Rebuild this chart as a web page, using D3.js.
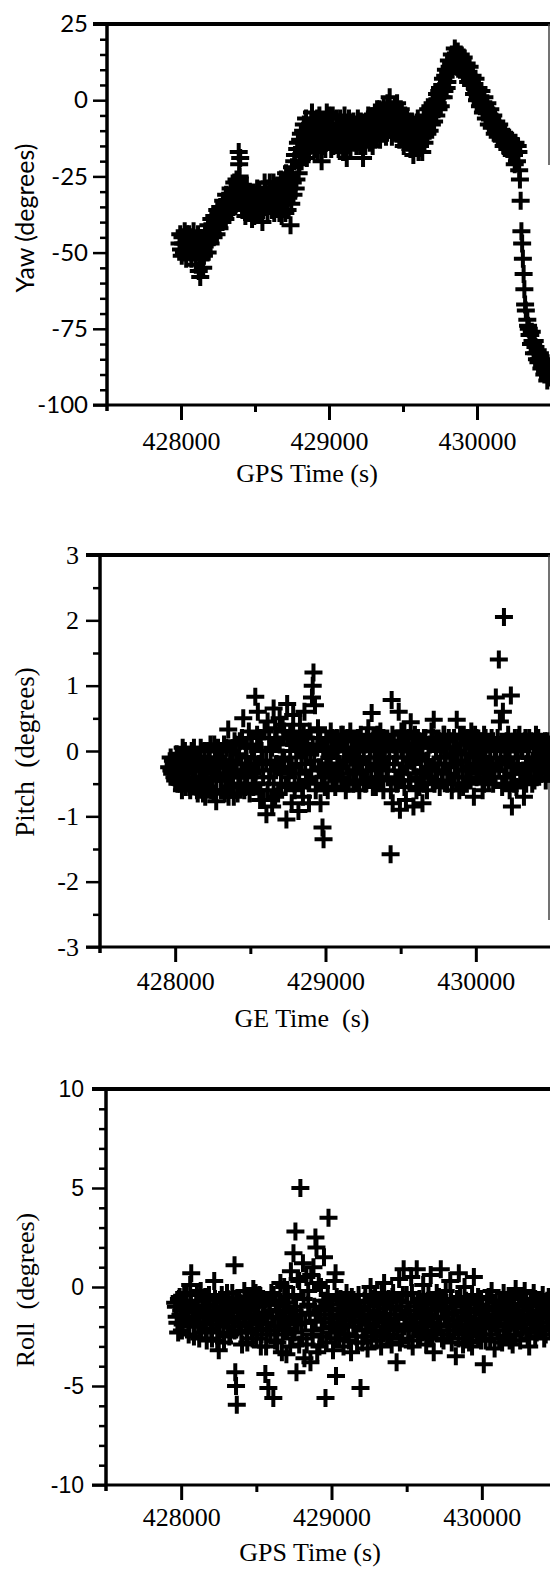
<!DOCTYPE html>
<html>
<head>
<meta charset="utf-8">
<script src="https://cdn.jsdelivr.net/npm/d3@7"></script>
<style>
body { margin: 0; background: #fff; }
</style>
</head>
<body>
<div id="chart"></div>
<script>
const width = 550, height = 1569;

// tick values
const timeTicks = [428000, 429000, 430000];
const timeMinorTicks = [428500, 429500];
const yawTicks = [25, 0, -25, -50, -75, -100];
const pitchTicks = [3, 2, 1, 0, -1, -2, -3];
const rollTicks = [10, 5, 0, -5, -10];

// [GPS time (s), degrees]
const yawData = [[427990,-47],[428000,-49],[428010,-45],[428020,-50],[428030,-47],[428040,-44],[428050,-49],[428060,-46],[428070,-52],[428080,-45],[428090,-50],[428100,-54],[428110,-47],[428120,-56],[428130,-58],[428140,-52],[428150,-55],[428160,-48],[428170,-45],[428180,-50],[428190,-43],[428200,-47],[428210,-42],[428220,-45],[428230,-40],[428240,-44],[428250,-39],[428260,-42],[428270,-37],[428280,-40],[428290,-35],[428300,-39],[428310,-34],[428320,-37],[428330,-32],[428340,-36],[428350,-30],[428360,-27],[428370,-34],[428380,-29],[428390,-17],[428393,-21],[428396,-25],[428400,-19],[428405,-28],[428410,-31],[428420,-33],[428430,-29],[428440,-35],[428450,-31],[428460,-37],[428470,-33],[428480,-39],[428490,-35],[428500,-31],[428510,-37],[428520,-33],[428530,-30],[428540,-36],[428550,-40],[428560,-33],[428570,-29],[428580,-35],[428590,-31],[428600,-27],[428610,-34],[428620,-30],[428630,-37],[428640,-32],[428650,-28],[428660,-34],[428670,-30],[428680,-38],[428690,-27],[428700,-33],[428710,-24],[428720,-36],[428730,-29],[428740,-41],[428750,-22],[428760,-31],[428770,-18],[428780,-26],[428790,-14],[428800,-21],[428810,-11],[428820,-17],[428830,-8],[428840,-13],[428850,-19],[428860,-9],[428870,-15],[428880,-7],[428890,-12],[428900,-16],[428910,-10],[428920,-6],[428930,-13],[428940,-9],[428950,-20],[428960,-11],[428970,-7],[428980,-14],[428990,-10],[429000,-5],[429010,-12],[429020,-8],[429030,-15],[429040,-10],[429050,-6],[429060,-13],[429070,-9],[429080,-11],[429090,-14],[429100,-8],[429110,-12],[429120,-19],[429130,-10],[429140,-13],[429150,-9],[429160,-11],[429170,-14],[429180,-8],[429190,-12],[429200,-10],[429210,-15],[429220,-9],[429230,-19],[429240,-11],[429250,-7],[429260,-13],[429270,-10],[429280,-6],[429290,-12],[429300,-9],[429310,-4],[429320,-11],[429330,-7],[429340,-3],[429350,-9],[429360,-6],[429370,-2],[429380,-8],[429390,-5],[429400,-3],[429410,1],[429420,-7],[429430,-3],[429440,-9],[429450,-5],[429460,-1],[429470,-8],[429480,-4],[429490,-10],[429500,-6],[429510,-12],[429520,-8],[429530,-14],[429540,-10],[429550,-16],[429560,-7],[429570,-18],[429580,-11],[429590,-15],[429600,-6],[429610,-13],[429620,-9],[429630,-17],[429640,-5],[429650,-12],[429660,-8],[429670,-3],[429680,-10],[429690,-5],[429700,-1],[429710,-7],[429720,-2],[429730,2],[429740,-3],[429750,4],[429760,1],[429770,7],[429780,3],[429790,10],[429800,6],[429810,13],[429820,9],[429830,15],[429840,12],[429850,17],[429860,14],[429870,16],[429880,12],[429890,15],[429900,11],[429910,14],[429920,8],[429930,12],[429940,6],[429950,11],[429960,5],[429970,8],[429980,2],[429990,7],[430000,0],[430010,4],[430020,-2],[430030,3],[430040,-4],[430050,1],[430060,-6],[430070,-1],[430080,-8],[430090,-3],[430100,-9],[430110,-5],[430120,-11],[430130,-7],[430140,-12],[430150,-8],[430160,-13],[430170,-10],[430180,-15],[430190,-11],[430200,-14],[430210,-12],[430220,-16],[430230,-13],[430240,-15],[430250,-18],[430260,-14],[430270,-20],[430280,-17],[430285,-23],[430290,-26],[430295,-33],[430300,-43],[430305,-47],[430310,-52],[430315,-57],[430320,-62],[430325,-67],[430330,-69],[430340,-72],[430350,-75],[430360,-77],[430370,-76],[430380,-80],[430390,-79],[430400,-83],[430410,-82],[430420,-85],[430430,-84],[430440,-87],[430450,-86],[430460,-89],[430470,-88],[430480,-91],[430490,-90]];

// second pass over the dense part of the yaw band
const yawBand = [[427995,-44],[428005,-51],[428015,-47],[428025,-43],[428035,-52],[428045,-47],[428055,-44],[428065,-50],[428075,-48],[428085,-43],[428095,-47],[428105,-50],[428115,-44],[428125,-52],[428135,-49],[428145,-46],[428155,-51],[428165,-43],[428175,-47],[428185,-41],[428195,-46],[428205,-39],[428215,-44],[428225,-38],[428235,-42],[428245,-36],[428255,-41],[428265,-35],[428275,-39],[428285,-33],[428295,-37],[428305,-31],[428315,-36],[428325,-34],[428335,-29],[428345,-33],[428355,-35],[428365,-31],[428375,-26],[428385,-32],[428415,-36],[428425,-30],[428435,-38],[428445,-28],[428455,-34],[428465,-30],[428475,-36],[428485,-32],[428495,-38],[428505,-34],[428515,-29],[428525,-36],[428535,-33],[428545,-31],[428555,-36],[428565,-27],[428575,-32],[428585,-37],[428595,-29],[428605,-31],[428615,-36],[428625,-27],[428635,-33],[428645,-35],[428655,-31],[428665,-37],[428675,-26],[428685,-33],[428695,-30],[428705,-37],[428715,-28],[428725,-32],[428735,-25],[428745,-34],[428755,-27],[428765,-20],[428775,-29],[428785,-16],[428795,-24],[428805,-13],[428815,-20],[428825,-10],[428835,-16],[428845,-6],[428855,-12],[428865,-17],[428875,-10],[428885,-4],[428895,-14],[428905,-8],[428915,-13],[428925,-17],[428935,-5],[428945,-12],[428955,-15],[428965,-8],[428975,-16],[428985,-4],[428995,-13],[429005,-9],[429015,-16],[429025,-5],[429035,-11],[429045,-14],[429055,-8],[429065,-16],[429075,-6],[429085,-12],[429095,-17],[429105,-5],[429115,-15],[429125,-9],[429135,-6],[429145,-16],[429155,-12],[429165,-7],[429175,-10],[429185,-15],[429195,-6],[429205,-13],[429215,-7],[429225,-14],[429235,-8],[429245,-15],[429255,-11],[429265,-5],[429275,-14],[429285,-9],[429295,-15],[429305,-7],[429315,-13],[429325,-3],[429335,-10],[429345,-13],[429355,-4],[429365,-11],[429375,-7],[429385,-12],[429395,-1],[429405,-9],[429415,-5],[429425,-12],[429435,-6],[429445,-2],[429455,-11],[429465,-7],[429475,-13],[429485,-3],[429495,-9],[429505,-15],[429515,-5],[429525,-11],[429535,-7],[429545,-13],[429555,-11],[429565,-15],[429575,-8],[429585,-13],[429595,-10],[429605,-17],[429615,-15],[429625,-12],[429635,-10],[429645,-14],[429655,-7],[429665,-11],[429675,-6],[429685,-2],[429695,-8],[429705,-4],[429715,0],[429725,-5],[429735,-1],[429745,3],[429755,-2],[429765,5],[429775,1],[429785,8],[429795,4],[429805,9],[429815,11],[429825,12],[429835,10],[429845,14],[429855,13],[429865,11],[429875,14],[429885,10],[429895,13],[429905,9],[429915,11],[429925,10],[429935,9],[429945,8],[429955,7],[429965,6],[429975,5],[429985,4],[429995,3],[430005,1],[430015,1],[430025,-1],[430035,-1],[430045,-3],[430055,-2],[430065,-4],[430075,-4],[430085,-5],[430095,-6],[430105,-7],[430115,-8],[430125,-9],[430135,-10],[430145,-11],[430155,-11],[430165,-12],[430175,-12],[430185,-13],[430195,-14],[430205,-16],[430215,-15],[430225,-17],[430235,-18],[430245,-16],[430255,-21],[430265,-17],[430275,-15],[430345,-74],[430355,-77],[430365,-80],[430375,-79],[430385,-83],[430395,-81],[430405,-85],[430415,-86],[430425,-83],[430435,-88],[430445,-85],[430455,-90],[430465,-87],[430475,-92]];

const pitchData = [[427960,-0.25],[427970,-0.1],[427980,-0.35],[427990,-0.2],[428000,-0.45],[428010,-0.05],[428020,-0.3],[428030,-0.5],[428040,-0.15],[428050,0.05],[428060,-0.35],[428070,-0.55],[428080,-0.1],[428090,-0.3],[428100,-0.6],[428110,0.0],[428120,-0.25],[428130,-0.45],[428140,-0.1],[428150,-0.65],[428160,-0.3],[428170,0.05],[428180,-0.2],[428190,-0.5],[428200,-0.7],[428210,-0.35],[428220,0.0],[428230,-0.15],[428240,-0.6],[428250,-0.4],[428260,0.1],[428273,-0.77],[428280,-0.25],[428290,-0.1],[428300,0.0],[428310,-0.45],[428320,-0.2],[428330,-0.65],[428340,0.05],[428353,0.33],[428360,-0.35],[428370,-0.55],[428380,-0.15],[428390,-0.7],[428400,0.1],[428410,-0.3],[428420,-0.5],[428430,0.15],[428440,-0.2],[428453,0.5],[428460,-0.6],[428470,-0.1],[428480,-0.4],[428490,0.3],[428500,-0.25],[428510,0.05],[428520,-0.55],[428533,0.83],[428540,-0.3],[428550,0.6],[428560,-0.6],[428570,0.2],[428580,-0.15],[428590,-0.75],[428607,-0.97],[428615,0.45],[428625,-0.4],[428635,0.0],[428645,-0.85],[428655,0.65],[428665,-0.7],[428675,0.15],[428685,-0.25],[428695,0.5],[428705,-0.5],[428715,-0.1],[428725,0.3],[428740,-1.05],[428745,0.72],[428755,-0.3],[428765,0.25],[428775,-0.8],[428785,0.55],[428795,-0.6],[428805,0.1],[428820,-0.92],[428830,0.4],[428840,-0.2],[428850,-0.7],[428860,0.6],[428870,-0.45],[428880,0.2],[428890,-0.8],[428900,0.0],[428910,0.82],[428915,1.0],[428920,1.2],[428930,0.7],[428940,-0.5],[428950,0.35],[428967,-0.8],[428980,-1.17],[428987,-1.35],[428995,-0.3],[429005,0.15],[429015,-0.6],[429025,-0.1],[429035,0.3],[429045,-0.4],[429055,0.0],[429065,-0.55],[429075,0.2],[429085,-0.25],[429095,0.1],[429105,-0.45],[429115,0.25],[429125,-0.15],[429135,-0.6],[429145,0.05],[429155,-0.35],[429165,0.3],[429175,-0.05],[429185,-0.5],[429195,0.15],[429205,-0.3],[429215,0.0],[429225,-0.6],[429235,0.25],[429245,-0.2],[429255,-0.45],[429265,0.1],[429275,-0.3],[429285,0.35],[429295,-0.1],[429307,0.58],[429315,-0.55],[429325,0.2],[429335,-0.25],[429345,0.05],[429355,-0.4],[429365,0.3],[429375,-0.15],[429385,-0.6],[429395,0.15],[429405,-0.3],[429420,-0.2],[429433,-1.58],[429440,0.78],[429447,-0.8],[429455,0.1],[429465,-0.45],[429475,-0.1],[429487,0.6],[429495,-0.9],[429505,0.05],[429515,-0.35],[429525,0.3],[429535,-0.75],[429545,0.0],[429555,-0.45],[429567,0.44],[429575,-0.15],[429585,-0.85],[429595,0.1],[429605,-0.4],[429615,0.2],[429625,-0.55],[429635,-0.1],[429645,-0.8],[429655,0.2],[429665,-0.3],[429675,-0.6],[429685,0.05],[429695,-0.25],[429705,0.3],[429720,0.48],[429730,-0.45],[429740,0.15],[429750,-0.2],[429760,-0.55],[429770,0.1],[429780,-0.3],[429790,0.25],[429800,-0.1],[429810,-0.5],[429820,0.2],[429830,-0.25],[429840,-0.6],[429850,0.05],[429860,-0.4],[429873,0.48],[429880,-0.15],[429890,-0.6],[429900,0.1],[429910,-0.3],[429920,0.25],[429930,-0.05],[429940,-0.5],[429950,0.15],[429960,-0.25],[429970,0.3],[429987,-0.7],[429995,-0.1],[430005,0.2],[430015,-0.35],[430025,0.05],[430035,-0.2],[430045,-0.6],[430055,0.25],[430065,-0.15],[430075,-0.4],[430085,0.1],[430095,-0.25],[430105,0.2],[430115,-0.5],[430125,0.0],[430133,0.82],[430153,1.4],[430160,0.45],[430170,-0.2],[430180,0.6],[430187,2.05],[430195,-0.4],[430205,0.15],[430215,-0.1],[430225,-0.6],[430233,0.85],[430240,-0.85],[430250,-0.25],[430260,0.2],[430270,-0.55],[430280,-0.1],[430290,0.25],[430300,-0.35],[430310,0.0],[430320,-0.7],[430330,0.2],[430340,-0.2],[430350,0.05],[430360,-0.4],[430370,0.15],[430380,-0.15],[430390,-0.45],[430400,0.25],[430410,-0.1],[430420,0.1],[430430,-0.3],[430440,0.0],[430450,-0.2],[430460,0.15],[430470,-0.1],[430480,-0.35],[430490,0.1]];

const pitchBand = [[427975,-0.3],[427985,-0.15],[427995,-0.4],[428005,-0.25],[428015,-0.5],[428025,-0.1],[428035,-0.35],[428045,-0.6],[428055,-0.2],[428065,0.0],[428075,-0.45],[428085,-0.25],[428095,-0.55],[428105,-0.15],[428115,-0.4],[428125,0.05],[428135,-0.3],[428145,-0.6],[428155,-0.15],[428165,-0.45],[428175,-0.25],[428185,-0.65],[428195,0.0],[428205,-0.4],[428215,-0.2],[428225,-0.55],[428235,0.1],[428245,-0.3],[428255,-0.65],[428265,-0.1],[428275,-0.45],[428285,0.05],[428295,-0.35],[428305,-0.6],[428315,-0.15],[428325,0.1],[428335,-0.4],[428345,-0.25],[428355,-0.7],[428365,0.0],[428375,-0.35],[428385,-0.5],[428395,0.15],[428405,-0.2],[428415,-0.65],[428425,-0.05],[428435,-0.4],[428445,0.2],[428455,-0.3],[428465,-0.55],[428475,0.05],[428485,-0.2],[428495,-0.65],[428505,0.1],[428515,-0.35],[428525,-0.1],[428535,-0.5],[428545,0.25],[428555,-0.2],[428565,-0.75],[428575,0.0],[428585,-0.4],[428595,0.3],[428605,-0.15],[428615,-0.6],[428625,0.2],[428635,-0.3],[428645,0.05],[428655,-0.5],[428665,0.35],[428675,-0.2],[428685,-0.65],[428695,0.1],[428705,-0.35],[428715,0.4],[428725,-0.15],[428735,-0.55],[428745,0.2],[428755,-0.4],[428765,0.0],[428775,-0.25],[428785,0.3],[428795,-0.5],[428805,-0.1],[428815,0.15],[428825,-0.35],[428835,0.05],[428845,-0.55],[428855,0.25],[428865,-0.2],[428875,-0.05],[428885,-0.45],[428895,0.3],[428905,-0.3],[428915,0.1],[428925,-0.15],[428935,-0.6],[428945,0.05],[428955,-0.25],[428965,0.2],[428975,-0.4],[428985,0.0],[428995,-0.55],[429005,-0.2],[429015,0.15],[429025,-0.35],[429035,-0.05],[429045,0.2],[429055,-0.3],[429065,0.05],[429075,-0.45],[429085,0.1],[429095,-0.2],[429105,0.25],[429115,-0.4],[429125,0.0],[429135,-0.15],[429145,0.2],[429155,-0.5],[429165,-0.1],[429175,0.15],[429185,-0.3],[429195,0.05],[429205,-0.45],[429215,0.2],[429225,-0.15],[429235,-0.35],[429245,0.1],[429255,0.0],[429265,-0.5],[429275,0.2],[429285,-0.2],[429295,0.05],[429305,-0.4],[429315,0.15],[429325,-0.1],[429335,-0.55],[429345,0.25],[429355,-0.25],[429365,0.0],[429375,-0.45],[429385,0.2],[429395,-0.1],[429405,0.1],[429415,-0.4],[429425,0.0],[429435,-0.6],[429445,0.25],[429455,-0.2],[429465,0.05],[429475,-0.5],[429485,0.15],[429495,-0.3],[429505,0.3],[429515,-0.1],[429525,-0.55],[429535,0.1],[429545,-0.25],[429555,0.2],[429565,-0.45],[429575,0.0],[429585,-0.2],[429595,0.25],[429605,-0.6],[429615,-0.05],[429625,0.15],[429635,-0.35],[429645,0.05],[429655,-0.5],[429665,0.2],[429675,-0.15],[429685,-0.4],[429695,0.1],[429705,-0.25],[429715,0.2],[429725,-0.5],[429735,0.0],[429745,-0.3],[429755,0.15],[429765,-0.1],[429775,-0.45],[429785,0.25],[429795,-0.2],[429805,0.05],[429815,-0.35],[429825,0.15],[429835,-0.05],[429845,-0.5],[429855,0.2],[429865,-0.2],[429875,0.0],[429885,-0.4],[429895,0.25],[429905,-0.15],[429915,-0.55],[429925,0.1],[429935,-0.3],[429945,0.2],[429955,-0.05],[429965,-0.45],[429975,0.1],[429985,-0.2],[429995,0.25],[430005,-0.4],[430015,0.0],[430025,-0.25],[430035,0.15],[430045,-0.1],[430055,-0.5],[430065,0.2],[430075,-0.2],[430085,-0.45],[430095,0.05],[430105,-0.3],[430115,0.15],[430125,-0.4],[430135,-0.1],[430145,0.2],[430155,-0.3],[430165,0.05],[430175,-0.55],[430185,0.1],[430195,-0.15],[430205,-0.4],[430215,0.25],[430225,0.0],[430235,-0.35],[430245,0.1],[430255,-0.5],[430265,0.0],[430275,-0.2],[430285,0.2],[430295,-0.45],[430305,0.05],[430315,-0.3],[430325,0.15],[430335,-0.5],[430345,-0.1],[430355,0.2],[430365,-0.25],[430375,-0.5],[430385,0.1],[430395,-0.15],[430405,-0.4],[430415,0.2],[430425,-0.05],[430435,-0.35],[430445,0.1],[430455,-0.2],[430465,-0.45],[430475,0.15],[430485,-0.1],[430495,-0.3]];

const rollData = [[427960,-0.8],[427970,-1.5],[427980,-2.3],[427990,-0.5],[428000,-1.2],[428010,-1.9],[428020,-0.3],[428030,-1.0],[428040,-1.6],[428050,-2.4],[428060,0.1],[428067,0.7],[428080,-1.3],[428090,-2.0],[428100,-0.7],[428110,-1.5],[428120,-2.6],[428130,-0.2],[428140,-1.1],[428150,-1.8],[428160,-0.5],[428170,-2.7],[428180,-1.4],[428190,-0.9],[428200,-2.2],[428210,-1.6],[428220,0.3],[428230,-1.0],[428240,-2.7],[428250,-3.2],[428260,-1.3],[428270,-0.4],[428280,-2.0],[428290,-1.1],[428300,-1.7],[428310,-0.6],[428320,-2.5],[428330,-1.2],[428340,-0.3],[428350,-2.0],[428355,1.1],[428360,-4.3],[428365,-5.0],[428370,-5.95],[428380,-1.6],[428390,-0.8],[428400,-2.3],[428410,-1.1],[428420,-0.2],[428430,-1.8],[428440,-2.8],[428450,-0.6],[428460,-1.4],[428470,-2.2],[428480,-0.1],[428490,-1.0],[428500,-2.6],[428510,-1.5],[428520,-0.4],[428530,-3.0],[428540,-1.9],[428550,-0.8],[428560,-4.4],[428570,-2.4],[428580,-5.1],[428590,-1.2],[428600,-0.3],[428613,-5.6],[428620,-2.0],[428630,-0.9],[428640,-2.8],[428650,-1.5],[428660,0.2],[428670,-3.3],[428680,-1.0],[428690,-2.2],[428700,-3.4],[428710,-0.5],[428720,-1.7],[428730,0.8],[428740,-2.6],[428747,1.7],[428755,-1.2],[428760,2.8],[428767,-4.3],[428775,0.4],[428785,-2.9],[428793,5.0],[428800,-1.8],[428810,1.2],[428820,-3.6],[428833,0.5],[428845,-0.9],[428860,-3.8],[428870,-2.2],[428880,1.0],[428893,2.5],[428900,2.0],[428910,-1.4],[428920,-3.0],[428930,0.0],[428940,-2.5],[428950,1.5],[428960,-5.6],[428970,-0.7],[428980,3.5],[428990,-2.0],[429000,-1.1],[429010,-3.2],[429020,0.3],[429027,0.7],[429030,-4.5],[429040,-1.6],[429050,-2.6],[429060,-0.6],[429070,-1.9],[429080,-3.0],[429090,-1.2],[429100,-0.3],[429110,-2.4],[429120,-1.5],[429130,-3.3],[429140,-0.8],[429150,-2.0],[429160,-1.0],[429170,-2.8],[429180,-0.4],[429193,-5.1],[429200,-1.7],[429210,-2.5],[429220,-0.7],[429230,-1.9],[429240,-3.1],[429250,-1.2],[429260,0.0],[429270,-2.2],[429280,-1.4],[429290,-0.5],[429300,-2.7],[429310,-1.6],[429320,-0.9],[429330,-3.0],[429340,-1.8],[429350,0.2],[429360,-1.1],[429370,-2.4],[429380,-0.6],[429390,-1.7],[429400,-2.9],[429410,-0.3],[429420,-1.4],[429433,-3.8],[429440,-2.1],[429450,0.4],[429460,-1.0],[429470,-2.6],[429480,0.9],[429490,-1.6],[429500,-0.4],[429510,-2.2],[429520,-1.2],[429530,0.5],[429540,-3.0],[429550,-1.8],[429567,0.9],[429575,-0.8],[429590,-2.4],[429600,-1.3],[429610,0.1],[429620,-2.0],[429630,-2.9],[429640,-0.7],[429650,-1.6],[429660,0.6],[429670,-2.4],[429680,-3.3],[429690,-1.1],[429700,-0.3],[429710,-1.9],[429727,0.9],[429735,-2.6],[429745,-1.0],[429760,-0.2],[429770,-2.2],[429780,-1.4],[429790,0.3],[429800,-2.8],[429810,-1.7],[429827,-3.5],[429835,-0.6],[429847,0.7],[429855,-2.0],[429865,-1.2],[429875,-2.9],[429885,0.0],[429895,-1.6],[429905,-2.4],[429915,-0.8],[429925,-1.9],[429935,-3.0],[429947,0.5],[429955,-1.3],[429965,-2.2],[429975,-0.5],[429985,-1.7],[429995,-2.7],[430005,-1.0],[430013,-3.9],[430025,-2.0],[430035,-0.6],[430045,-1.5],[430055,-2.6],[430065,-0.2],[430075,-1.8],[430085,-3.1],[430095,-1.1],[430105,-2.2],[430115,-0.7],[430125,-1.6],[430135,-2.8],[430145,-0.3],[430155,-1.9],[430165,-1.2],[430175,-2.5],[430185,-0.5],[430195,-1.5],[430205,-2.9],[430215,-1.0],[430225,-0.1],[430235,-2.1],[430245,-1.4],[430255,-2.7],[430265,-0.6],[430275,-1.7],[430285,-0.2],[430295,-2.3],[430305,-1.2],[430315,-3.0],[430325,-0.8],[430335,-1.9],[430345,-0.3],[430355,-2.5],[430365,-1.4],[430375,-0.7],[430385,-2.1],[430395,-1.6],[430405,-0.4],[430415,-2.6],[430425,-1.1],[430435,-1.8],[430445,-0.5],[430455,-2.2],[430465,-1.3]];

const rollBand = [[427965,-1.0],[427975,-1.8],[427985,-0.6],[427995,-1.4],[428005,-2.2],[428015,-0.9],[428025,-1.6],[428035,-0.4],[428045,-1.2],[428055,-2.0],[428065,-0.8],[428075,-1.5],[428085,-2.5],[428095,-1.1],[428105,-0.3],[428115,-1.9],[428125,-1.3],[428135,-2.3],[428145,-0.7],[428155,-1.5],[428165,-2.1],[428175,-1.0],[428185,-0.4],[428195,-1.7],[428205,-2.6],[428215,-1.2],[428225,-0.6],[428235,-1.9],[428245,-1.4],[428255,-2.3],[428265,-0.8],[428275,-1.6],[428285,-2.8],[428295,-1.0],[428305,-0.3],[428315,-1.8],[428325,-2.4],[428335,-0.9],[428345,-1.5],[428355,-2.2],[428365,-0.6],[428375,-1.3],[428385,-2.0],[428395,-1.0],[428405,-2.9],[428415,-1.6],[428425,-0.5],[428435,-2.3],[428445,-1.2],[428455,-1.9],[428465,-0.8],[428475,-2.6],[428485,-1.4],[428495,-0.3],[428505,-2.1],[428515,-1.0],[428525,-1.7],[428535,-2.4],[428545,-0.6],[428555,-1.3],[428565,-3.0],[428575,-1.8],[428585,-0.9],[428595,-2.2],[428605,-1.5],[428615,-0.4],[428625,-2.7],[428635,-1.2],[428645,-2.0],[428655,-0.7],[428665,-1.6],[428675,-2.4],[428685,0.0],[428695,-1.3],[428705,-2.1],[428715,-0.8],[428725,-3.0],[428735,-1.5],[428745,-0.4],[428755,-2.3],[428765,-1.0],[428775,-1.9],[428785,0.3],[428795,-1.4],[428805,-2.6],[428815,-0.6],[428825,-1.8],[428835,-2.9],[428845,-0.2],[428855,-1.3],[428865,0.6],[428875,-2.4],[428885,-1.0],[428895,-1.7],[428905,-3.3],[428915,0.2],[428925,-1.2],[428935,-2.1],[428945,-0.7],[428955,-1.6],[428965,-2.8],[428975,-0.4],[428985,-1.4],[428995,-2.3],[429005,-0.9],[429015,-1.8],[429025,-2.6],[429035,-0.5],[429045,-1.2],[429055,-2.1],[429065,-1.5],[429075,-0.7],[429085,-2.4],[429095,-1.7],[429105,-0.9],[429115,-2.7],[429125,-1.3],[429135,-0.5],[429145,-2.0],[429155,-1.4],[429165,-2.5],[429175,-0.8],[429185,-1.8],[429195,-1.1],[429205,-2.8],[429215,-1.5],[429225,-0.4],[429235,-2.2],[429245,-1.0],[429255,-1.9],[429265,-2.7],[429275,-0.6],[429285,-1.6],[429295,-2.3],[429305,-0.9],[429315,-1.3],[429325,-2.5],[429335,-0.3],[429345,-1.5],[429355,-2.0],[429365,-0.8],[429375,-1.7],[429385,-2.6],[429395,-1.0],[429405,-0.5],[429415,-2.2],[429425,-1.6],[429435,-0.7],[429445,-1.9],[429455,-2.8],[429465,-1.2],[429475,-0.4],[429485,-2.0],[429495,-1.4],[429505,-0.8],[429515,-2.7],[429525,-1.6],[429535,-0.3],[429545,-2.1],[429555,-1.0],[429565,-1.8],[429575,-2.5],[429585,-0.6],[429595,-1.5],[429605,-2.3],[429615,-0.9],[429625,-1.4],[429635,-2.0],[429645,-0.4],[429655,-2.6],[429665,-1.2],[429675,-1.8],[429685,-0.7],[429695,-2.2],[429705,-1.5],[429715,-0.5],[429725,-2.0],[429735,-1.1],[429745,-2.7],[429755,-1.6],[429765,-0.8],[429775,-1.9],[429785,-2.4],[429795,-0.6],[429805,-1.3],[429815,-2.2],[429825,-1.0],[429835,-1.7],[429845,-2.6],[429855,-0.5],[429865,-1.9],[429875,-1.3],[429885,-2.3],[429895,-0.7],[429905,-1.5],[429915,-2.8],[429925,-1.1],[429935,-0.4],[429945,-2.0],[429955,-1.6],[429965,-0.9],[429975,-2.5],[429985,-1.2],[429995,-0.6],[430005,-2.1],[430015,-1.4],[430025,-2.7],[430035,-1.0],[430045,-0.5],[430055,-1.8],[430065,-2.4],[430075,-1.2],[430085,-0.8],[430095,-2.0],[430105,-1.5],[430115,-2.6],[430125,-0.9],[430135,-1.3],[430145,-2.2],[430155,-0.7],[430165,-2.0],[430175,-1.4],[430185,-2.7],[430195,-1.0],[430205,-0.6],[430215,-1.8],[430225,-2.4],[430235,-1.2],[430245,-0.5],[430255,-1.6],[430265,-2.3],[430275,-1.0],[430285,-1.9],[430295,-0.7],[430305,-2.6],[430315,-1.5],[430325,-2.1],[430335,-1.0],[430345,-1.7],[430355,-0.6],[430365,-2.3],[430375,-1.3],[430385,-0.9],[430395,-2.0],[430405,-1.5],[430415,-1.0],[430425,-2.4],[430435,-0.7],[430445,-1.4],[430455,-2.0],[430465,-0.9],[430475,-1.7]];

const serif = "'Liberation Serif', 'Times New Roman', serif";
const sans = "Lato, 'Liberation Sans', sans-serif";
const helv = "'Liberation Sans', Arial, sans-serif";

// one entry per stacked plot
const panels = [
	{ data: yawData.concat(yawBand), domain: [-100, 25], ticks: yawTicks, minorStep: 5,
	  left: 107, right: 551, top: 24, bottom: 405,
	  yFont: sans, yFontSize: 24, yPad: 5,
	  label: "Yaw (degrees)", labelFont: sans, labelSize: 25, labelY: 218,
	  xLabel: "GPS Time (s)", xLabelX: 307, xLabelY: 482, xPad: 12,
	  border: [24, 165] },
	{ data: pitchData.concat(pitchBand), domain: [-3, 3], ticks: pitchTicks, minorStep: 0.5,
	  left: 100, right: 551, top: 555, bottom: 947,
	  yFont: serif, yFontSize: 26, yPad: 7,
	  label: "Pitch  (degrees)", labelFont: serif, labelSize: 27, labelY: 752,
	  xLabel: "GE Time  (s)", xLabelX: 302, xLabelY: 1027, xPad: 10,
	  border: [555, 920] },
	{ data: rollData.concat(rollBand), domain: [-10, 10], ticks: rollTicks, minorStep: 1,
	  left: 106, right: 557, top: 1089, bottom: 1485,
	  yFont: helv, yFontSize: 23, yPad: 8,
	  label: "Roll  (degrees)", labelFont: serif, labelSize: 26, labelY: 1290,
	  xLabel: "GPS Time (s)", xLabelX: 310, xLabelY: 1561, xPad: 8,
	  border: null }
];

const svg = d3.select("#chart")
	.append("svg")
	.attr("width", width)
	.attr("height", height)
	.style("display", "block");

svg.append("rect").attr("width", width).attr("height", height).attr("fill", "#fff");

const crossPath = "M-9,0H9M0,-9V9";

panels.forEach(function(p) {
	const x = d3.scaleLinear().domain([427500, 430500]).range([p.left, p.right]);
	const y = d3.scaleLinear().domain(p.domain).range([p.bottom, p.top]);
	const g = svg.append("g");

	const minor = d3.range(p.domain[0], p.domain[1] + 1e-9, p.minorStep)
		.filter(v => !p.ticks.some(t => Math.abs(t - v) < 1e-9));

	// left axis, minor then major ticks
	g.append("g")
		.attr("transform", `translate(${p.left},0)`)
		.call(d3.axisLeft(y).tickValues(minor).tickSize(7).tickSizeOuter(0).tickFormat(""))
		.call(a => a.select(".domain").remove())
		.call(a => a.selectAll("line").attr("stroke-width", 2.5));

	g.append("g")
		.attr("transform", `translate(${p.left},0)`)
		.call(d3.axisLeft(y).tickValues(p.ticks).tickSize(14).tickSizeOuter(0)
			.tickPadding(p.yPad).tickFormat(d => String(d)))
		.call(a => a.select(".domain").remove())
		.call(a => a.selectAll("line").attr("stroke-width", 2.5))
		.call(a => a.selectAll("text").attr("font-family", p.yFont)
			.attr("font-size", p.yFontSize).attr("fill", "#000"));

	// bottom axis
	g.append("g")
		.attr("transform", `translate(0,${p.bottom})`)
		.call(d3.axisBottom(x).tickValues(timeMinorTicks).tickSize(7).tickSizeOuter(0).tickFormat(""))
		.call(a => a.select(".domain").remove())
		.call(a => a.selectAll("line").attr("stroke-width", 3));

	g.append("g")
		.attr("transform", `translate(0,${p.bottom})`)
		.call(d3.axisBottom(x).tickValues(timeTicks).tickSize(15).tickSizeOuter(0)
			.tickPadding(p.xPad).tickFormat(d3.format("d")))
		.call(a => a.select(".domain").remove())
		.call(a => a.selectAll("line").attr("stroke-width", 3))
		.call(a => a.selectAll("text").attr("font-family", serif)
			.attr("font-size", 26).attr("fill", "#000"));

	// frame lines
	g.append("line")
		.attr("x1", p.left - 14).attr("x2", width)
		.attr("y1", p.top).attr("y2", p.top)
		.attr("stroke", "#000").attr("stroke-width", 4);
	g.append("line")
		.attr("x1", p.left - 14).attr("x2", width)
		.attr("y1", p.bottom).attr("y2", p.bottom)
		.attr("stroke", "#000").attr("stroke-width", 3);
	g.append("line")
		.attr("x1", p.left).attr("x2", p.left)
		.attr("y1", p.top).attr("y2", p.bottom + 6)
		.attr("stroke", "#000").attr("stroke-width", 3.5);
	if (p.border) {
		g.append("line")
			.attr("x1", 549).attr("x2", 549)
			.attr("y1", p.border[0]).attr("y2", p.border[1])
			.attr("stroke", "#444").attr("stroke-width", 1.5);
	}

	// axis titles
	g.append("text")
		.attr("transform", `translate(34,${p.labelY}) rotate(-90)`)
		.attr("text-anchor", "middle")
		.attr("font-family", p.labelFont)
		.attr("font-size", p.labelSize)
		.style("white-space", "pre")
		.text(p.label);

	g.append("text")
		.attr("x", p.xLabelX)
		.attr("y", p.xLabelY)
		.attr("text-anchor", "middle")
		.attr("font-family", serif)
		.attr("font-size", 26)
		.style("white-space", "pre")
		.text(p.xLabel);

	// plus markers
	g.append("g").selectAll("path")
		.data(p.data)
		.join("path")
		.attr("d", crossPath)
		.attr("transform", d => `translate(${x(d[0])},${y(d[1])})`)
		.attr("fill", "none")
		.attr("stroke", "#000")
		.attr("stroke-width", 4);
});
</script>
</body>
</html>
